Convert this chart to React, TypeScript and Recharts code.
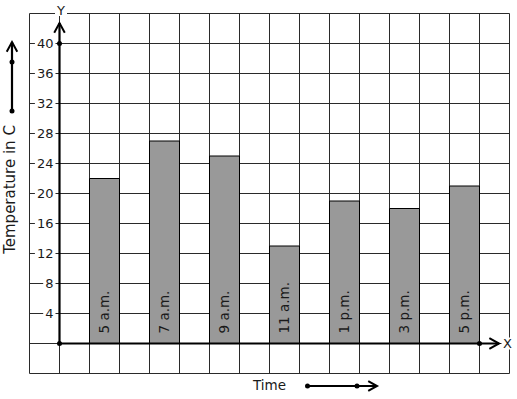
import React from "react";
import {
  BarChart,
  Bar,
  XAxis,
  YAxis,
  CartesianGrid,
  ReferenceLine,
  ReferenceDot,
  LabelList,
} from "recharts";

const times = ["5 a.m.", "7 a.m.", "9 a.m.", "11 a.m.", "1 p.m.", "3 p.m.", "5 p.m."];
const temps = [22, 27, 25, 13, 19, 18, 21];
const yTicks = [-4, 0, 4, 8, 12, 16, 20, 24, 28, 32, 36, 40, 44];
const xTicks = [-1, 0, 1, 2, 3, 4, 5, 6, 7, 8, 9, 10, 11, 12, 13, 14, 15];

// each reading sits in every other grid column, starting one column right of the Y axis
const data = temps.map((t, i) => ({ time: times[i], temp: t, slot: 1.5 + 2 * i }));

const FONT = "DejaVu Sans, sans-serif";
const INK = "#1a1a1a";

const arrowHead = (tx: number, ty: number, ang: number, len = 11, spread = 0.5) => {
  const a1 = ang + Math.PI - spread;
  const a2 = ang + Math.PI + spread;
  return `${tx + len * Math.cos(a1)},${ty + len * Math.sin(a1)} ${tx},${ty} ${tx + len * Math.cos(a2)},${ty + len * Math.sin(a2)}`;
};

const ArrowLine = (props: any) => {
  const { x1, y1, x2, y2, name, nameDx, nameDy } = props;
  const ang = Math.atan2(y2 - y1, x2 - x1);
  const lx = x2 + nameDx;
  const ly = y2 + nameDy;
  return (
    <g>
      <line x1={x1} y1={y1} x2={x2} y2={y2} stroke="#000" strokeWidth={2.2} />
      <polyline points={arrowHead(x2, y2, ang)} fill="none" stroke="#000" strokeWidth={2} />
      <rect x={lx - 6} y={ly - 6} width={12} height={12} fill="#fff" />
      <text x={lx} y={ly} dy="0.36em" textAnchor="middle" fontFamily={FONT} fontSize={13} fill={INK}>
        {name}
      </text>
    </g>
  );
};

const YTick = (props: any) => {
  const { x, y, payload } = props;
  const v = payload.value;
  if (v <= 0 || v > 40) return <g />;
  const tx = x + 24;
  const w = String(v).length * 8.3 + 3;
  return (
    <g>
      <rect x={tx - w + 1} y={y - 6} width={w + 1} height={12} fill="#fff" />
      <text x={tx} y={y} dy="0.36em" textAnchor="end" fontFamily={FONT} fontSize={13} fill={INK}>
        {v}
      </text>
    </g>
  );
};

const NoTick = () => <g />;

const BarLabel = (props: any) => {
  const { x, y, width, height, value } = props;
  const cx = x + width / 2 + 4;
  const by = y + height - 10;
  return (
    <text
      x={cx}
      y={by}
      transform={`rotate(-90 ${cx} ${by})`}
      textAnchor="start"
      fontFamily={FONT}
      fontSize={13.5}
      fill={INK}
    >
      {value}
    </text>
  );
};

const YTitle = (props: any) => {
  const { viewBox } = props;
  const { x, y, height } = viewBox;
  const ax = x + 12;
  const tip = y + 28.5;
  const cy = y + height / 2 - 4;
  const tx = x + 15;
  return (
    <g>
      <line x1={ax} y1={y + 97.5} x2={ax} y2={tip} stroke="#000" strokeWidth={2.2} />
      <polyline points={arrowHead(ax, tip, -Math.PI / 2)} fill="none" stroke="#000" strokeWidth={2} />
      <circle cx={ax} cy={y + 48.5} r={2.5} fill="#000" />
      <circle cx={ax} cy={y + 97.5} r={2.5} fill="#000" />
      <text
        x={tx}
        y={cy}
        transform={`rotate(-90 ${tx} ${cy})`}
        textAnchor="middle"
        fontFamily={FONT}
        fontSize={15}
        fill={INK}
      >
        Temperature in C
      </text>
    </g>
  );
};

const XTitle = (props: any) => {
  const { viewBox } = props;
  const { x, y } = viewBox;
  const ay = y + 12.5;
  const tip = x + 347.5;
  return (
    <g>
      <text x={x + 223.5} y={y + 16} fontFamily={FONT} fontSize={13.5} fill={INK}>
        Time
      </text>
      <line x1={x + 278} y1={ay} x2={tip} y2={ay} stroke="#000" strokeWidth={2} />
      <polyline points={arrowHead(tip, ay, 0, 10)} fill="none" stroke="#000" strokeWidth={2} />
      <circle cx={x + 278} cy={ay} r={2.5} fill="#000" />
      <circle cx={x + 327.5} cy={ay} r={2.5} fill="#000" />
    </g>
  );
};

export default function App() {
  return (
    <div style={{ position: "absolute", left: 0, top: 0, width: 517, height: 399, background: "#fff" }}>
      <BarChart width={517} height={399} data={data} margin={{ top: 13.5, right: 7.5, bottom: 0, left: 0 }}>
        <CartesianGrid stroke="#2a2a2a" strokeWidth={1} strokeOpacity={1} />
        <XAxis
          dataKey="slot"
          type="number"
          domain={[-1, 15]}
          ticks={xTicks}
          interval={0}
          allowDataOverflow
          height={25.5}
          axisLine={false}
          tickLine={false}
          tick={NoTick}
          label={{ content: XTitle }}
        />
        <YAxis
          type="number"
          domain={[-4, 44]}
          ticks={yTicks}
          interval={0}
          allowDataOverflow
          width={29.5}
          axisLine={false}
          tickLine={false}
          tickSize={0}
          tickMargin={0}
          tick={YTick}
          label={{ content: YTitle }}
        />
        <Bar dataKey="temp" fill="#999999" stroke="#000" strokeWidth={1} barSize={30} isAnimationActive={false}>
          <LabelList dataKey="time" content={BarLabel} />
        </Bar>
        <ReferenceLine
          segment={[{ x: 0, y: 0 }, { x: 14.65, y: 0 }]}
          shape={(p: any) => <ArrowLine {...p} name="X" nameDx={8.5} nameDy={0} />}
        />
        <ReferenceLine
          segment={[{ x: 0, y: 0 }, { x: 0, y: 42.73 }]}
          shape={(p: any) => <ArrowLine {...p} name="Y" nameDx={1.5} nameDy={-13} />}
        />
        <ReferenceDot x={0} y={0} r={2.5} fill="#000" stroke="none" />
        <ReferenceDot x={0} y={40} r={2.5} fill="#000" stroke="none" />
        <ReferenceDot x={14} y={0} r={2.5} fill="#000" stroke="none" />
      </BarChart>
    </div>
  );
}
